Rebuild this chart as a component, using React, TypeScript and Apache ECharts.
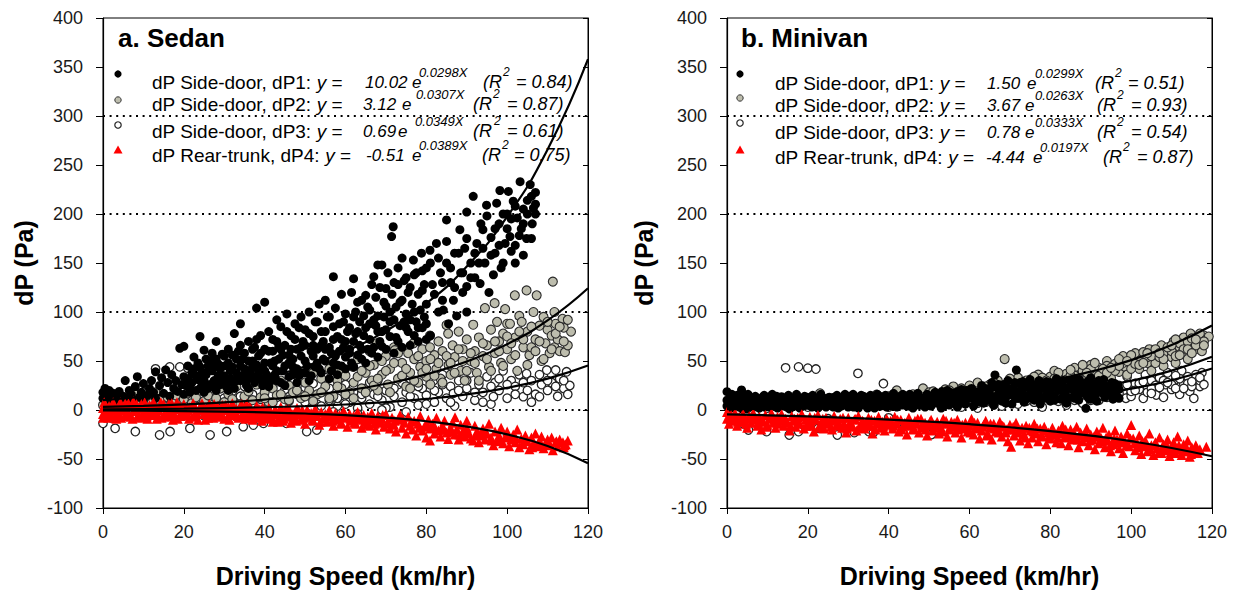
import React, { useEffect, useRef } from "react";
import * as echarts from "echarts";

// ---------- DATA ----------
const legendLabels = ["dP Side-door, dP1: ", "dP Side-door, dP2: ", "dP Side-door, dP3: ", "dP Rear-trunk, dP4: "];
const panelTitles = ["a. Sedan", "b. Minivan"];
const xTitle = "Driving Speed (km/hr)";
const yTitle = "dP (Pa)";

const sedanCoef = ["10.02", "3.12", "0.69", "-0.51"];
const sedanExp = ["0.0298X", "0.0307X", "0.0349X", "0.0389X"];
const sedanR2 = ["0.84", "0.87", "0.61", "0.75"];
const minivanCoef = ["1.50", "3.67", "0.78", "-4.44"];
const minivanExp = ["0.0299X", "0.0263X", "0.0333X", "0.0197X"];
const minivanR2 = ["0.51", "0.93", "0.54", "0.87"];

const refLines = [0, 100, 200, 300];

// fit curves read along x = 0..120 step 10
const fitX = [0, 10, 20, 30, 40, 50, 60, 70, 80, 90, 100, 110, 120];
const sedanFit1 = [10.02, 13.5, 18.19, 24.5, 33.0, 44.46, 59.89, 80.69, 108.7, 146.4, 197.3, 265.8, 358.0];
const sedanFit2 = [3.12, 4.24, 5.77, 7.84, 10.65, 14.48, 19.69, 26.76, 36.38, 49.44, 67.21, 91.36, 124.2];
const sedanFit3 = [0.69, 0.98, 1.39, 1.97, 2.79, 3.95, 5.6, 7.94, 11.26, 15.96, 22.62, 32.07, 45.46];
const sedanFit4 = [-0.51, -0.75, -1.11, -1.64, -2.42, -3.57, -5.26, -7.76, -11.46, -16.91, -24.94, -36.81, -54.3];
const minivanFit1 = [1.5, 2.02, 2.73, 3.68, 4.96, 6.69, 9.02, 12.16, 16.4, 22.12, 29.83, 40.22, 54.25];
const minivanFit2 = [3.67, 4.77, 6.21, 8.08, 10.51, 13.67, 17.78, 23.13, 30.09, 39.14, 50.92, 66.24, 86.16];
const minivanFit3 = [0.78, 1.09, 1.52, 2.12, 2.96, 4.12, 5.75, 8.02, 11.2, 15.62, 21.79, 30.4, 42.42];
const minivanFit4 = [-4.44, -5.41, -6.58, -8.02, -9.76, -11.89, -14.48, -17.63, -21.47, -26.14, -31.84, -38.77, -47.21];

const sedanDP1 = [
  [0,12],[0,18],[0.5,22],[1,9],[1,15],[1.5,20],[2,11],[2.5,17],[3,8],[3,13],[4,19],[4,10],[5,14],[5.5,30],[6,12],[6.5,20],[7,16],[7.5,9],[8,24],[8.5,34],[9,13],[9.5,18],[10,27],[10,11],
  [11,15],[11.5,22],[12,30],[12.5,18],[13,39],[13,12],[14,25],[14.5,33],[15,17],[15.5,41],[16,28],[16.5,14],[17,36],[17.5,22],[18,30],[18.5,19],[19,63],[19.5,26],[20,65],[20,34],[20,16],
  [21,45],[21.5,24],[22,38],[22.5,54],[23,20],[23.5,31],[24,75],[24,44],[24.5,27],[25,61],[25.5,36],[26,22],[26.5,50],[27,40],[27.5,30],[28,70],[28.5,47],[29,26],[29.5,57],[30,35],[30,45],
  [31,62],[31.5,40],[32,28],[32.5,78],[33,52],[33.5,35],[34,88],[34,45],[35,58],[35.5,30],[36,70],[36.5,40],[37,50],[37.5,64],[38,104],[38,34],[38.5,55],[39,76],[39.5,42],[40,110],[40,62],[40,28],
  [41,80],[41.5,48],[42,60],[42.5,36],[43,92],[43,70],[43.5,52],[44,85],[44.5,40],[45,66],[45.5,98],[46,56],[46.5,76],[47,44],[47.5,88],[48,62],[48.5,35],[49,95],[49.5,70],[50,50],[50,82],
  [51,100],[51.5,60],[52,75],[52.5,44],[53,90],[53.5,108],[54,66],[54.5,52],[55,112],[55,80],[56,95],[56.5,58],[57,136],[57,72],[57.5,104],[58,46],[58.5,88],[59,118],[59.5,64],[60,98],[60,54],
  [61,84],[61.5,120],[62,134],[62,70],[62.5,100],[63,56],[63.5,90],[64,112],[64.5,76],[65,117],[65.5,62],[66,102],[66.5,128],[67,136],[67.5,86],[68,148],[68,96],[68.5,70],[69,148],[69.5,110],[70,82],[70,124],
  [71,100],[71.4,177],[71.8,187],[72,130],[72.5,74],[73,145],[73.5,110],[74,155],[74.5,90],[75,135],[75.5,120],[76,66],[76.8,153],[77,100],[77.5,140],[78,84],[78.8,160],[79,122],[79.5,95],[80,145],[80,108],
  [80.9,163],[81,76],[81.5,128],[82.5,170],[83,100],[83.5,140],[84,112],[84.2,102],[85,194],[85,150],[85.5,88],[86,130],[86.7,112],[87,160],[87.5,96],[88.3,184],[88.5,140],[89,120],[89.5,165],[90,202],[90,126],[90,100],
  [91,150],[91.6,218],[92,135],[92.5,170],[93.3,129],[93.5,190],[94,184],[94.5,150],[94.9,209],[95.5,120],[96,176],[96.6,138],[97,160],[97.4,211],[98,190],[98.2,224],[98.5,145],[99,150],[99.5,170],[100,200],[100.3,223],[100.7,177],
  [101,162],[101.5,213],[102,168],[102.5,196],[103.2,233],[103.5,185],[104,205],[104.8,175],[105,214],[105.7,230],[106,218],[106.2,190],[106.5,206],[107,222],[107,200],[104,158],[102,150],
  [20.5,25],[21,32],[21.5,18],[22,28],[22.5,42],[23,35],[23.5,48],[24,22],[24.5,38],[25,30],[25.5,52],[26,40],[26.5,26],[27,58],[27.5,44],[28,20],[28.5,35],[29,42],[29.5,30],[30,55],[30.5,24],[31,48],[31.5,32],[32,44],[32.5,22],[33,38],[33.5,60],[34,30],[34.5,52],[35,42],[35.5,25],[36,50],[36.5,35],[37,62],[37.5,28],[38,46],[38.5,38],[39,58],[39.5,25],[40,48],
  [40.5,36],[41,60],[41.5,30],[42,72],[42.5,50],[43,40],[43.5,65],[44,28],[44.5,56],[45,45],[45.5,80],[46,34],[46.5,62],[47,52],[47.5,72],[48,42],[48.5,84],[49,55],[49.5,38],[50,66],[50.5,45],[51,78],[51.5,35],[52,55],[52.5,90],[53,62],[53.5,42],[54,80],[54.5,70],[55,50],[55.5,95],[56,64],[56.5,40],[57,85],[57.5,55],[58,75],[58.5,60],[59,45],[59.5,90],[60,70],
  [60.5,80],[61,62],[61.5,48],[62,95],[62.5,78],[63,110],[63.5,66],[64,52],[64.5,96],[65,84],[65.5,105],[66,72],[66.5,58],[67,92],[67.5,115],[68,80],[68.5,125],[69,65],[69.5,95],[70,106],[70.5,140],[71,75],[71.5,118],[72,92],[72.5,105],[73,128],[73.5,86],[74,112],[74.5,132],[75,98],[75.5,80],[76,125],[76.5,108],[77,138],[77.5,90],[78,118],[78.5,102],[79,142],[79.5,128],[80,88],
  [81,150],[82,118],[83,155],[84,130],[85,172],[86,145],[87,125],[88,160],[89,140],[90,175],[91,135],[92,160],[93,150],[94,165],[95,198],[96,158],[97,185],[98,168],[99,200],[100,185],[101,195],[102,208],[103,178],[104,190],[105,200],[106,175],[107,210],
  [25,18],[26,45],[27,24],[28,52],[29,36],[30,28],[31,20],[32,56],[33,30],[34,66],[35,36],[36,22],[37,44],[38,72],[39,32],[40,40],[41,24],[42,45],[43,30],[44,62],[45,25],[46,48],[47,36],[48,28],[49,64],[50,38],[51,30],[52,66],[53,48],[54,38],[55,62],[56,32],[57,48],[58,36],[59,72],[60,42],[61,58],[62,44],[63,80],[64,62],[65,48],[66,88],[67,64],[68,54],[69,80],[70,62],[71,90],[72,58],[73,70],[74,64],[75,84],[76,92],[77,76],[78,70],[79,84],[80,72]
];

const sedanDP2 = [
  [0,5],[1,10],[2,3],[3,8],[4,14],[5,6],[6,11],[7,4],[8,16],[9,9],[10,5],[11,12],[12,7],[13,18],[14,10],[15,4],[16,13],[17,8],[18,15],[19,6],[20,11],
  [21,17],[22,7],[23,13],[24,20],[25,9],[26,15],[27,5],[28,12],[29,22],[30,8],[31,16],[32,11],[33,24],[34,6],[35,14],[36,19],[37,10],[38,26],[39,13],[40,18],
  [41,8],[42,22],[43,15],[44,30],[45,11],[46,25],[47,18],[48,35],[49,12],[50,28],[51,20],[52,38],[53,16],[54,32],[55,24],[56,42],[57,14],[58,30],[58.6,41],[59,22],[60,35],
  [61,18],[61.9,44],[62,28],[63,52],[64,22],[65,38],[66,60],[66.5,30],[67,46],[67.7,68],[68,20],[69,36],[70,55],[70.5,26],[71,42],[72,64],[72.2,61],[73,32],[74,48],[75,24],[75.5,58],[76,38],[76.8,68],[77,52],[78,28],[78.5,44],[79,62],[80,34],[80,50],
  [80.9,76],[80.9,64],[81,26],[82,56],[82.5,42],[83,70],[83.5,32],[84,60],[85,86.7],[85.4,78],[85.5,46],[86,36],[86.5,66],[87,54],[88,80],[88.5,40],[89,62],[89.5,30],[90,72],[91,50],[91.6,87],[92,60],[92.5,38],[93,74],[94,55],[94.5,104],[95,66],[95.5,44],[96,82],[96.9,109],[97,58],[97.5,90],[98,70],[98.5,48],[99,78],[99.5,103],[100,62],[100,88],
  [100.7,88],[101,52],[101.9,117],[102,74],[102.5,40],[103,96],[103.6,90],[104,64],[104.8,122],[105,80],[105.5,56],[106,64],[106.5,100],[107,72],[107.3,117],[108,86],[108.5,50],[109,95],[109.5,68],[110,82],[110.5,58],[111,76],[111.3,131],[111.7,100],[111.7,64],[112,88],[112.5,72],[113,60],[113.7,93],[114.3,59],[115,66],[115.8,80],[114,84],
  [40,12],[42,8],[44,16],[46,10],[48,20],[50,14],[52,9],[54,18],[56,12],[58,24],[60,16],[62,12],[63,34],[64,40],[65,18],[66,45],[67,25],[68,32],[69,50],[70,40],[71,18],[72,48],[73,58],[74,35],[75,42],[76,22],[77,30],[78,55],[79,38],[80,42],[81,52],[82,35],[83,48],[84,28],[85,55],[86,48],[87,38],[88,62],[89,50],[90,40],[91,58],[92,48],[93,30],[94,68],[95,52],[96,40],[97,70],[98,60],[99,45],[100,75],[101,68],[102,56],[103,80],[104,72],[105,46],[106,85],[107,60],[108,70],[109,52],[110,90],[111,62],[112,78],[113,85],[114,70],[115,92]
];

const sedanDP3 = [
  [0,-13.6],[0.5,4],[1,10],[2,-8],[3,-18.7],[3.5,6],[4,14],[5,-5],[6,8],[7,2],[8,-22],[8.5,12],[9,5],[10,18],[11,-3],[12,9],[13,42],[13.5,3],[14,-25.5],[15,15],[16,6],[16.5,44],[16.6,-22],[17,11],[18,-2],[19,44],[20,8],[21,42.7],[21.5,-18.7],[22,14],[23,4],[24,20],[25,-6],[26,10],[26.5,-25.5],[27,17],[28,3],[29,22],[30,12],[30.6,-22],[31,6],[32,19],[33,-4],[34,14],[34.7,-17],[35,24],[36,8],[37,16],[37.2,-15.4],[38,28],[39,11],[39.7,-13.6],[40,20],[41,5],[42,25],[43,13],[44,-10],[45,21],[45.4,-13.6],[46,9],[47,30],[48,16],[49,-8],[50,23],[50.4,-22],[51,12],[52,27],[52.9,-20.4],[53,6],[54,18],[55,33],
  [56,10],[57,20],[58,4],[59,15],[60,26],[61,8],[62,18],[63,2],[64,12],[65,22],[66,6],[67,16],[68,30],[69,10],[70,20],[71,3],[72,14],[73,26],[74,8],[75,18],[76,32],[77,12],[78,5],[79,22],[80,15],[81,28],[81.8,30],[82,8],[83,18],[84,36],[85,12],[86,24],[86.7,17],[87,4],[88,30],[89,14],[90,22],[91,38],[92,10],[93,26],[94,18],[95,34],[96,6],[96.6,13.6],[97,28],[98,20],[99,40],[100,12],[101,30],[102,24],[103,36],[104,13.6],[104.8,37],[105,20],[106,30],[107,16],[108,13.6],[108.5,26],[109,34],[109.8,40.8],[110,20],[111,28],[112,40.8],[112.5,14],[113,32],[114,22],[114.7,39],[115.5,25],
  [50,8],[52,14],[54,4],[56,22],[58,12],[60,6],[62,24],[64,16],[66,28],[68,14],[70,2],[72,22],[74,28],[76,14],[78,24],[80,6],[82,20],[84,26],[86,8],[88,20],[90,30],[92,18],[94,8],[96,24],[98,32],[100,26],[102,16],[104,28],[106,8],[108,36],[110,30],[112,24],[114,30],[115,16],[57,-2],[63,-4],[69,0],[75,-2]
];

const sedanDP4 = [
  [0,2],[0,-4],[0.5,6],[1,-1],[1.5,4],[2,-6],[2.5,8],[3,0],[3.5,-3],[4,5],[4.5,-8],[5,2],[5.5,7],[6,-2],[6.5,-5],[7,4],[7.5,9],[8,-1],[8.5,-7],[9,3],[9.5,6],[10,-3],[10.5,1],[11,-9],[11.5,5],[12,-2],[12.5,8],[13,0],[13.5,-5],[14,3],[14.5,-8],[15,6],[15.5,-1],[16,2],[16.5,-6],[17,7],[17.5,-3],[18,1],[18.5,-9],[19,4],[19.5,-2],[20,6],[20.5,-5],[21,0],[21.5,3],[22,-7],[22.5,5],[23,-2],[23.5,-10],[24,2],[24.5,7],[25,-4],[25.5,1],[26,-8],[26.5,4],[27,-1],[27.5,6],[28,-6],[28.5,2],[29,-3],[29.5,5],[30,-9],[30.5,0],[31,3],[31.5,-5],[32,7],[32.5,-2],[33,1],[33.5,-8],[34,4],[34.5,-4],[35,-1],[35.5,6],[36,-6],[36.5,2],[37,-10],[37.5,0],[38,4],[38.5,-3],[39,-7],[39.5,3],[40,-2],
  [40.5,-9],[41,2],[41.5,-5],[42,-12],[42.5,0],[43,-4],[43.5,-8],[44,3],[44.5,-11],[45,-2],[45.5,-6],[46,1],[46.5,-13],[47,-4],[47.5,-8],[48,2],[48.5,-1],[49,-10],[49.5,-5],[50,-14],[50.5,0],[51,-7],[51.5,-3],[52,-11],[52.5,1],[53,-6],[53.5,-15],[54,-2],[54.5,-9],[55,-4],[55.5,-12],[56,0],[56.5,-7],[57,-16],[57.5,-3],[58,-10],[58.5,-5],[59,-13],[59.5,-1],[60,-8],[60.5,-17],[61,-4],[61.5,-11],[62,-6],[62.5,-14],[63,-2],[63.5,-9],[64,-18],[64.5,-5],[65,-12],[65.5,-7],[66,-16],[66.5,-3],[67,-10],[67.5,-20],[68,-6],[68.5,-13],[69,-9],[69.5,-17],[70,-4],
  [70.5,-12],[71,-19],[71.5,-8],[72,-15],[72.5,-22],[73,-10],[73.5,-5],[74,-18],[74.5,-13],[75,-24],[75.5,-7],[76,-16],[76.5,-20],[77,-11],[77.5,-26],[78,-14],[78.5,-6],[79,-21],[79.5,-17],[80,-28],[80.5,-10],[80.9,-31],[81,-19],[81.5,-14],[82,-24],[82.5,-8],[83,-21],[83.5,-27],[84,-16],[84.5,-11],[85,-23],[85.4,-29.6],[86,-18],[86.5,-13],[87,-25],[87.1,-7.5],[87.5,-20],[88,-30],[88.5,-15],[89,-22],[89.5,-27],[90,-11],[90,-18],
  [90.5,-24],[91,-29],[91.6,-31],[92,-16],[92.5,-22],[93,-33],[93.5,-26],[94,-19],[94.5,-30],[95,-24],[95.5,-14],[96,-28],[96.6,-36],[97,-22],[97.5,-32],[98,-26],[98.5,-18],[99,-34],[99.5,-28],[100,-22],[100.5,-37],[101,-30],[101.5,-25],[102,-33],[102.5,-20],[103,-38],[103.5,-29],[104,-35],[104.5,-26],[105,-32],[105.5,-40],[106,-28],[106.5,-34],[107,-24],[107.5,-37],[108,-31],[108.5,-27],[109,-39],[109.5,-34],[110,-30],[110.5,-36],[111,-28],[111.3,-41],[112,-33],[112.5,-37],[113,-30],[113.8,-32.8],[114,-38],[114.5,-35],[115,-31],
  [0,-8],[0.8,1],[1.8,-3],[2.8,3],[3.8,-5],[4.8,0],[5.8,4],[6.8,-7],[7.8,1],[8.8,-4],[9.8,2],[10.8,-6],[11.8,3],[12.8,-4],[13.8,0],[14.8,4],[15.8,-5],[16.8,1],[17.8,-7],[18.8,3],[19.8,-1],[20.8,-4],[21.8,2],[22.8,-6],[23.8,0],[24.8,3],[25.8,-3],[26.8,-6],[27.8,1],[28.8,-4],[29.8,2],[30.8,-7],[31.8,0],[32.8,-4],[33.8,2],[34.8,-6],[35.8,1],[36.8,-3],[37.8,-8],[38.8,1],[39.8,-5],
  [40.8,-3],[41.8,-8],[42.8,-1],[43.8,-6],[44.8,-9],[45.8,-3],[46.8,-7],[47.8,-11],[48.8,-4],[49.8,-8],[50.8,-3],[51.8,-10],[52.8,-5],[53.8,-12],[54.8,-7],[55.8,-3],[56.8,-11],[57.8,-7],[58.8,-14],[59.8,-4],[61.2,-9],[62.2,-13],[63.2,-6],[64.2,-10],[65.2,-15],[66.2,-9],[67.2,-14],[68.2,-10],[69.2,-5],[70.2,-14],
  [72.2,-11],[74.2,-9],[76.2,-12],[78.2,-18],[80.2,-15],[82.2,-18],[84.2,-20],[86.2,-22],[88.2,-25],[90.2,-21],[92.2,-26],[94.2,-24],[96.2,-31],[98.2,-30],[100.2,-27],[102.2,-29],[104.2,-31],[106.2,-38],[108.2,-35],[110.2,-33],[112.2,-32],[114.2,-36],
  [0.3,8],[1.3,-8],[2.3,5],[3.3,-9],[4.3,8],[5.3,-6],[6.3,7],[7.3,-9],[8.3,6],[9.3,-8],[10.3,8],[11.3,-5],[12.3,6],[13.3,-9],[14.3,8],[15.3,-7],[16.3,6],[17.3,-10],[18.3,8],[19.3,-6],[20.3,3],[21.3,-9],[22.3,7],[23.3,-4],[24.3,5],[25.3,-10],[26.3,6],[27.3,-8],[28.3,4],[29.3,-7],[30.3,5],[31.3,-10],[32.3,3],[33.3,-6],[34.3,6],[35.3,-9],[36.3,3],[37.3,-5],[38.3,2],[39.3,-11],[41.3,-1],[43.3,-12],[45.3,1],[47.3,-10],[49.3,0]
];

const minivanDP1 = [
  [0,4],[0,10],[0,18.7],[0.5,7],[1,2],[1,13],[1.5,5],[2,9],[2.5,15],[3,3],[3.6,20.4],[4,8],[4.5,12],[5,1],[5.5,6],[6,10],[6.5,3],[7,14],[7.5,7],[8,2],[8.5,11],[9,5],[9.5,8],[10,13],[10.5,3],[11,9],[11.5,6],[12,11],[12.5,2],[13,7],[13.5,13.6],[14,4],[14.5,10],[15,6],[15.5,1],[16,8],[16.5,12],[17,4],[17.5,9],[18,2],[18.5,7],[19,11],[19.5,5],[20,8],[20.5,12],[21,3],[21.5,6],[22,10],[22.5,2],[23,8],[23.5,5],[24,12],[24.5,3],[25,7],[25.5,10],[26,4],[26.5,13],[27,6],[27.5,2],[28,9],[28.5,5],[29,11],[29.2,16],[29.5,7],[30,3],[30.5,14],[31,8],[31.5,5],[32,10],[32.5,2],[33,12],[33.5,6],[34,9],[34.5,4],[35,11],[35.5,15],[36,6],[36.5,2],[37,9],[37.5,12],[38,4],[38.5,7],[39,13],[39.5,3],[40,10],[40.5,6],[41,14],[41.5,8],[42,3],[42.5,11],[43,6],[43.5,16],[44,9],[44.5,4],[45,12],[45.5,7],[46,2],[46.5,10],[47,14],[47.5,5],[48,8],[48.5,12],[49,3],[49.5,16],[50,9],
  [50.5,4],[51,13],[51.5,18],[52,7],[52.5,11],[53,2],[53.5,15],[54,9],[54.5,20],[55,5],[55.5,12],[56,17],[56.5,8],[57,3],[57.5,14],[58,21],[58.5,10],[59,6],[59.5,16],[60,12],[60.5,22],[61,4],[61.5,9],[62,18],[62.5,13],[63,25],[63.5,7],[64,15],[64.5,20],[65,10],[65.5,28],[66,5],[66.3,35.7],[66.5,14],[67,22],[67.5,18],[68,9],[68.5,26],[69,13],[69.5,30],[70,16],[70.5,6],[71,21],[71.6,40.8],[72,12],[72.5,28],[73,18],[73.5,8],[74,24],[74.5,14],[75,31],[75.5,20],[76,10],[76.5,26],[77,16],[77.5,6],[78,22],[78.5,12],[79,29],[79.5,18],[80,9],[80.5,24],[81,14],[81.5,32],[82,20],[82.5,11],[83,26],[83.5,16],[84,7],[84.5,22],[85,30],[85.5,13],[86,19],[86.5,25],[87,10],[87.5,28],[88,17],[88.8,1.7],[89,23],[89.5,12],[90,20],[90.5,27],[91,15],[91.5,9],[92,22],[92.5,18],[93,26],[93.5,13],[94,20],[94.5,16],[95,24],[95.5,11],[96,19],[96.5,14],[97,21],
  [0.3,6],[0.8,12],[1.3,8],[1.8,4],[2.3,11],[2.8,6],[3.3,9],[3.8,1],[4.3,14],[4.8,5],[5.3,10],[5.8,7],[6.3,12],[6.8,4],[7.3,9],[7.8,11],[8.3,6],[8.8,13],[9.3,3],[9.8,10],[10.3,7],[10.8,12],[11.3,4],[11.8,8],[12.3,14],[12.8,5],[13.3,9],[13.8,11],[14.3,7],[14.8,3],[15.3,12],[15.8,9],[16.3,5],[16.8,10],[17.3,13],[17.8,6],[18.3,11],[18.8,4],[19.3,9],[19.8,13],[20.3,5],[20.8,10],[21.3,7],[21.8,12],[22.3,4],[22.8,9],[23.3,13],[23.8,7],[24.3,10],[24.8,5],[25.3,13],[25.8,8],[26.3,3],[26.8,10],[27.3,12],[27.8,7],[28.3,4],[28.8,13],[29.8,9],[30.3,6],[30.8,11],[31.3,3],[31.8,13],[32.3,8],[32.8,5],[33.3,10],[33.8,14],[34.3,7],[34.8,2],[35.3,9],[35.8,12],[36.3,5],[36.8,10],[37.3,4],[37.8,14],[38.3,9],[38.8,6],[39.3,11],[39.8,7],[40.3,13],[40.8,4],[41.3,10],[41.8,12],[42.3,7],[42.8,14],[43.3,5],[43.8,10],[44.3,13],[44.8,7],[45.3,4],[45.8,11],[46.3,14],[46.8,6],[47.3,9],[47.8,12],[48.3,5],[48.8,10],[49.3,14],[49.8,6],
  [51,8],[52,16],[53,11],[54,5],[55,15],[56,10],[57,19],[58,7],[59,12],[60,17],[61,14],[62,8],[63,12],[64,22],[65,16],[66,9],[67,13],[68,19],[69,7],[70,22],[71,14],[72,18],[73,24],[74,11],[75,17],[76,21],[77,12],[78,26],[79,15],[80,20],[81,10],[82,25],[83,19],[84,14],[85,22],[86,12],[87,18],[88,24],[89,15],[90,11],[91,22],[92,28],[93,17],[94,24],[95,15],[96,27],[97,12],[86,32],[90,33],[92,30],[80,28],[75,26],
  [1.2,16],[3.2,14],[5.2,16],[7.2,12],[9.2,15],[11.2,16],[13.2,11],[15.2,15],[17.2,16],[19.2,14],[21.2,15],[23.2,16],[25.2,11],[27.2,15],[29.2,12],[31.2,16],[33.2,15],[35.2,12],[37.2,16],[39.2,15],[41.2,17],[43.2,12],[45.2,16],[47.2,17],[49.2,11],[51.2,16],[53.2,19],[55.2,18],[57.2,12],[59.2,20],[61.2,19],[63.2,17],[65.2,22],[67.2,26],[69.2,21],[71.2,28],[73.2,29],[75.2,22],[77.2,30],[79.2,24],[81.2,27],[83.2,30],[85.2,26],[87.2,31],[89.2,29],[91.2,25],[93.2,31],[95.2,28],[96.8,25]
];

const minivanDP2 = [
  [12,6],[15,9],[18,4],[20,11],[23,17],[25,7],[28,10],[30,13],[32,5],[35,12],[37,15.6],[39,9],[40,14],[42,20],[44,11],[46,16],[48,12],[48.5,22],[50,18],[51,19],[52,13],[54,21],[55,15],[56,24],[57,17],[58,22],[59,14],[60,25],
  [61,18],[62,28],[63,21],[64,14],[65,26],[66,20],[67,30],[68,23],[68.7,52],[69,17],[70,28],[71,22],[72,33],[73,26],[74,19],[75,31],[76,24],[77,36],[78,28],[79,21],[80,34],[80.5,27],[81,40],[82,31],[83,24],[84,37],[85,30],[86,43],[86.5,35],[87,27],[88,40],[89,33],[90,46],[90.5,38],[91,30],[92,43],[93,36],[94,50],[94.5,41],[95,33],[96,47],[97,39],[98,55],[98.5,44],[99,36],[100,51],[100.5,46],[101,58],[102,42],[103,54],[104,48],[104.5,62],[105,40],[106,57],[107,50],[107.5,66],[108,45],[109,60],[110,54],[110.5,70],[111,48],[112,64],[112.5,58],[113,74],[114,52],[114.7,78],[115,68],[116,62],[117,72],[117.5,60],[118,76],[119.2,75],
  [55,20],[58,18],[60,20],[62,15],[64,24],[66,28],[68,16],[70,20],[72,26],[74,30],[76,20],[78,33],[80,25],[82,38],[84,31],[86,35],[88,30],[90,42],[92,35],[94,45],[96,40],[98,48],[100,42],[102,50],[104,54],[106,48],[108,58],[110,60],[111,55],[112,68],[113,62],[114,70],[115,73],[116,66],[117,78],[118,70],[101,47],[103,59],[105,55],[107,54],[109,64],[97,45],[93,42],[89,38],[85,35],[81,32],
  [70,32],[73,22],[76,34],[79,30],[82,27],[85,41],[88,46],[91,48],[94,38],[97,52],[100,56],[102,46],[104,58],[106,62],[108,52],[110,66],[112,56],[114,62],[116,72],[118,66],[115,58],[111,72],[107,58],[103,48],[99,50],[95,43]
];

const minivanDP3 = [
  [2,-8],[4,-14],[5.3,-20.4],[7,-5],[9.8,-22],[12,-10],[14.5,43],[15.4,-25.5],[17.7,44],[17.7,-22],[20,42.7],[22,41.8],[22.6,-18.7],[25,-9],[27.3,-25.5],[30,-12],[31.5,-23],[32.4,37.4],[35.1,-22],[36.2,-23],[38.7,27],[40,-8],[44,-15],[50.6,-25],
  [1,3],[6,5],[10,2],[15,6],[20,3],[25,8],[30,4],[35,7],[40,3],[45,9],[50,5],[55,8],[58,3],
  [60,10],[62,2],[64,8],[66,14],[68,4],[70,10],[72,6],[74,16],[76,8],[78,3],[80,14],[81,20],[82,9],[84,5],[85,17],[86,24],[87,12],[88,7],[89,20],[90,15],[91,28],[92,10],[93,22],[94,17],[95,30],[96,13],[97,25],[98,19],[98.7,12],[99,34],[100,14],[101,27],[102,21],[103,11.9],[103.5,36],[104,24],[105,30],[106,17],[106.2,15.3],[107,33],[108,13],[108.5,26],[109,38],[110,21],[111,31],[112,16],[112.5,40],[113,27],[114,34],[114.5,19],[115.5,11.9],[116,30],[117,24],[117.5,38],
  [62,7],[66,5],[70,13],[74,9],[78,12],[82,16],[84,13],[86,10],[88,16],[90,10],[92,19],[94,13],[96,20],[98,24],[100,19],[102,27],[104,18],[106,25],[108,30],[110,26],[112,32],[114,27],[116,36],[117,30],[105,22],[111,22],[115,24],
  [91,18],[93,14],[95,22],[97,17],[99,26],[101,20],[103,29],[105,17],[107,23],[109,28],[111,35],[113,22],[115,29],[117,33],[118,26]
];

const minivanDP4 = [
  [0,-2],[0,-9],[0.5,-14],[1,-5],[1.5,-11],[2,-3],[2.5,-16],[3,-7],[3.5,-12],[4,-4],[4.5,-9],[5,-18],[5.5,-6],[6,-13],[6.5,-3],[7,-10],[7.5,-16],[8,-7],[8.5,-20],[9,-12],[9.5,-5],[10,-15],[10.5,-9],[11,-3],[11.5,-13],[12,-18],[12.5,-7],[13,-11],[13.5,-4],[14,-16],[14.5,-9],[15,-13],[15.5,-21],[16,-6],[16.5,-11],[17,-17],[17.5,-8],[18,-14],[18.5,-4],[19,-19],[19.5,-10],[20,-13],[20.5,-7],[21,-16],[21.5,-22],[22,-10],[22.5,-5],[23,-15],[23.5,-12],[24,-19],[24.5,-8],[25,-14],[25.5,-11],[26,-20],[26.5,-6],[27,-16],[27.5,-12],[28,-9],[28.5,-18],[29,-14],[29.5,-23],[30,-8],[30.5,-12],[31,-17],[31.5,-10],[32,-21],[32.5,-6],[33,-15],[33.5,-11],[34,-19],[34.5,-13],[35,-8],[35.5,-16],[36,-24],[36.5,-11],[37,-14],[37.5,-7],[38,-18],[38.5,-12],[39,-21],[39.5,-9],[40,-15],
  [40.5,-11],[41,-19],[41.5,-7],[42,-14],[42.5,-22],[43,-10],[43.5,-17],[44,-13],[44.5,-25],[45,-8],[45.5,-16],[46,-20],[46.5,-11],[47,-14],[47.5,-23],[48,-9],[48.5,-18],[49,-13],[49.5,-26],[50,-16],[50.5,-10],[51,-21],[51.5,-15],[52,-12],[52.5,-24],[53,-18],[53.5,-9],[54,-14],[54.5,-27],[55,-20],[55.5,-12],[56,-17],[56.5,-23],[57,-10],[57.5,-15],[58,-28],[58.5,-19],[59,-13],[59.5,-22],[60,-16],[60.5,-9],[61,-25],[61.5,-18],[62,-13],[62.5,-29],[63,-21],[63.5,-15],[64,-11],[64.5,-24],[65,-18],[65.5,-30],[66,-14],[66.5,-22],[67,-19],[67.5,-12],[68,-27],[68.5,-17],[69,-23],[69.5,-32],[70,-15],[70.3,-37.4],[70.5,-20],[71,-26],[71.5,-13],[72,-22],[72.5,-31],[73,-18],[73.5,-25],[74,-16],[74.5,-34],[75,-21],[75.5,-28],[76,-14],[76.5,-24],[77,-32],[77.5,-19],[78,-27],[78.5,-17],[79,-35],[79.5,-23],[80,-29],
  [80.5,-18],[81,-25],[81.5,-33],[82,-21],[82.7,-34],[83,-16],[83.5,-28],[84,-24],[84.5,-36],[85,-20],[85.5,-30],[86,-26],[86.5,-17],[87,-38],[87.5,-23],[88,-32],[88.5,-28],[89,-19],[89.5,-36],[90,-25],[90.5,-30],[91,-40],[91.5,-22],[92,-34],[92.5,-28],[93,-18],[93.5,-38],[94,-31],[94.5,-25],[95,-42],[95.5,-35],[96,-21],[96.5,-30],[97,-39],[97.5,-27],[98,-44],[98.5,-33],[99,-24],[99.5,-37],[100,-15.3],[100.5,-29],[101,-41],[101.5,-34],[102,-26],[102.5,-45],[103,-37],[103.5,-31],[104,-42],[104.5,-24],[105,-36],[105.5,-46],[106,-33],[106.5,-39],[107,-28],[107.5,-44],[108,-35],[108.5,-41],[109,-30],[109.5,-47],[110,-38],[110.5,-33],[111,-44],[111.5,-27],[112,-40],[112.5,-46],[113,-35],[113.5,-42],[114,-31],[114.5,-47.6],[115,-38],[115.5,-44],[116,-36],[118.6,-37.4],
  [0.7,-6],[1.7,-9],[2.7,-12],[3.7,-6],[4.7,-14],[5.7,-9],[6.7,-7],[7.7,-13],[8.7,-10],[9.7,-17],[10.7,-6],[11.7,-10],[12.7,-14],[13.7,-8],[14.7,-12],[15.7,-16],[16.7,-9],[17.7,-13],[18.7,-7],[19.7,-16],[20.7,-11],[21.7,-8],[22.7,-18],[23.7,-9],[24.7,-13],[25.7,-17],[26.7,-10],[27.7,-14],[28.7,-8],[29.7,-19],[30.7,-14],[31.7,-9],[32.7,-18],[33.7,-12],[34.7,-16],[35.7,-10],[36.7,-20],[37.7,-13],[38.7,-16],[39.7,-11],
  [41.2,-16],[42.2,-10],[43.2,-20],[44.2,-15],[45.2,-12],[46.2,-18],[47.2,-9],[48.2,-15],[49.2,-20],[50.2,-12],[51.2,-18],[52.2,-16],[53.2,-22],[54.2,-11],[55.2,-17],[56.2,-13],[57.2,-20],[58.2,-15],[59.2,-18],[60.2,-23],[61.2,-13],[62.2,-19],[63.2,-17],[64.2,-26],[65.2,-14],[66.2,-19],[67.2,-23],[68.2,-16],[69.2,-20],
  [70.8,-17],[71.8,-23],[72.8,-20],[73.8,-28],[74.8,-18],[75.8,-22],[76.8,-19],[77.8,-25],[78.8,-21],[79.8,-26],[80.8,-22],[81.8,-28],[82.8,-24],[83.8,-20],[84.8,-27],[85.8,-23],[86.8,-30],[87.8,-26],[88.8,-24],[89.8,-31],[90.8,-27],[91.8,-25],[92.8,-32],[93.8,-28],[94.8,-36],[95.8,-29],[96.8,-33],[97.8,-31],[98.8,-36],[99.8,-29],[100.8,-34],[101.8,-38],[102.8,-32],[103.8,-36],[104.8,-40],[105.8,-35],[106.8,-43],[107.8,-38],[108.8,-36],[109.8,-43],[110.8,-40],[111.8,-36],[112.8,-42],[113.8,-39],[114.8,-45],[115.8,-41],[116.5,-44],[117,-40]
];

// ---------- LAYOUT (positions / styles) ----------
const FONT = "'Liberation Sans', Arial, Helvetica, sans-serif";
const GRIDS = [
  { left: 103, top: 18, width: 485, height: 490 },
  { left: 727, top: 18, width: 485, height: 490 },
];
const LEG = [
  {
    titleX: 118, symX: 118, textX: 152,
    rowY: [82, 104, 131, 155], symY: [74, 100, 125, 150],
    coefX: [365, 363, 363, 366], eX: [412, 402, 398, 412], expX: [419, 416, 415, 419],
    rX: [483, 473, 473, 482], supX: [503, 493, 494, 502], eqX: [516, 507, 507, 514],
  },
  {
    titleX: 741, symX: 740, textX: 775,
    rowY: [83, 105, 132, 157], symY: [74, 98, 123, 150],
    coefX: [987, 987, 987, 986], eX: [1027, 1025, 1025, 1033], expX: [1035, 1035, 1035, 1040],
    rX: [1095, 1097, 1097, 1103], supX: [1115, 1117, 1117, 1123], eqX: [1128, 1131, 1131, 1137],
  },
];

const GREY = "#bdbdad";

function txt(x: number, y: number, text: string, size: number, opts: any = {}) {
  return {
    type: "text",
    x,
    y,
    rotation: opts.rotation || 0,
    z: 100,
    style: {
      text,
      fill: opts.fill || "#000",
      fontSize: size,
      fontFamily: FONT,
      fontWeight: opts.weight || "normal",
      fontStyle: opts.italic ? "italic" : "normal",
      align: opts.align || "left",
      textAlign: opts.align || "left",
      verticalAlign: "middle",
      textVerticalAlign: "middle",
      rich: opts.rich,
    },
  };
}

function legendSymbol(i: number, x: number, y: number) {
  if (i === 0) return { type: "circle", z: 100, shape: { cx: x, cy: y, r: 3.6 }, style: { fill: "#000" } };
  if (i === 1) return { type: "circle", z: 100, shape: { cx: x, cy: y, r: 3.2 }, style: { fill: GREY, stroke: "#333", lineWidth: 1 } };
  if (i === 2) return { type: "circle", z: 100, shape: { cx: x, cy: y, r: 3.2 }, style: { fill: "#fff", stroke: "#222", lineWidth: 1.2 } };
  return { type: "polygon", z: 100, shape: { points: [[x, y - 4.5], [x - 4.5, y + 3.5], [x + 4.5, y + 3.5]] }, style: { fill: "#ff0000" } };
}

function buildGraphic() {
  const g: any[] = [];
  const coefs = [sedanCoef, minivanCoef];
  const exps = [sedanExp, minivanExp];
  const r2s = [sedanR2, minivanR2];
  for (let p = 0; p < 2; p++) {
    const L = LEG[p];
    const G = GRIDS[p];
    g.push(txt(L.titleX, 38, panelTitles[p], 26, { weight: "bold" }));
    g.push(txt(G.left + G.width / 2, 576, xTitle, 25, { weight: "bold", align: "center" }));
    g.push(txt(p === 0 ? 24 : 644, G.top + G.height / 2, yTitle, 25, { weight: "bold", align: "center", rotation: Math.PI / 2 }));
    for (let i = 0; i < 4; i++) {
      const y = L.rowY[i];
      g.push(legendSymbol(i, L.symX, L.symY[i]));
      g.push(
        txt(L.textX, y, `{n|${legendLabels[i]}}{i|y} {n|=}`, 19, {
          rich: {
            n: { fontSize: 19, fontFamily: FONT, fill: "#000" },
            i: { fontSize: 19, fontFamily: FONT, fontStyle: "italic", fill: "#000" },
          },
        })
      );
      g.push(txt(L.coefX[i], y, coefs[p][i], 17, { italic: true }));
      g.push(txt(L.eX[i], y, "e", 17, { italic: true }));
      g.push(txt(L.expX[i], y - 10, exps[p][i], 13, { italic: true }));
      g.push(txt(L.rX[i], y, "(R", 18, { italic: true }));
      g.push(txt(L.supX[i], y - 10, "2", 12, { italic: true }));
      g.push(txt(L.eqX[i], y, `= ${r2s[p][i]})`, 18, { italic: true }));
    }
  }
  return g;
}

function pairs(xs: number[], ys: number[]) {
  return xs.map((x, i) => [x, ys[i]]);
}

function panelSeries(idx: number, d1: number[][], d2: number[][], d3: number[][], d4: number[][], fits: number[][]) {
  const base = { xAxisIndex: idx, yAxisIndex: idx * 2 };
  const s: any[] = [
    {
      ...base,
      type: "scatter",
      name: "dP3",
      data: d3,
      symbol: "circle",
      symbolSize: 8.5,
      itemStyle: { color: "#fff", borderColor: "#222", borderWidth: 1.3, opacity: 1 },
      z: 2,
      markLine: {
        silent: true,
        symbol: "none",
        label: { show: false },
        lineStyle: { color: "#000", width: 2, type: [2, 4.6] },
        data: refLines.map((v) => ({ yAxis: v })),
        z: 1,
      },
    },
    {
      ...base,
      type: "scatter",
      name: "dP2",
      data: d2,
      symbol: "circle",
      symbolSize: 9,
      itemStyle: { color: GREY, borderColor: "#2a2a2a", borderWidth: 1.1, opacity: 1 },
      z: 3,
    },
    {
      ...base,
      type: "scatter",
      name: "dP1",
      data: d1,
      symbol: "circle",
      symbolSize: 9,
      itemStyle: { color: "#000", opacity: 1 },
      z: 4,
    },
    {
      ...base,
      type: "scatter",
      name: "dP4",
      data: d4,
      symbol: "triangle",
      symbolSize: 10,
      itemStyle: { color: "#ff0000", opacity: 1 },
      z: 5,
    },
  ];
  fits.forEach((f, k) => {
    s.push({
      ...base,
      type: "line",
      name: "fit" + (k + 1),
      data: pairs(fitX, f),
      smooth: true,
      showSymbol: false,
      symbol: "none",
      lineStyle: { color: "#000", width: 2.2 },
      z: 6,
    });
  });
  return s;
}

export default function App() {
  const ref = useRef<HTMLDivElement>(null);
  useEffect(() => {
    if (!ref.current) return;
    const chart = echarts.init(ref.current, undefined, { renderer: "svg" });
    const axisLabel = { fontSize: 18, fontFamily: FONT, color: "#1a1a1a" };
    const xAxes = GRIDS.map((_, i) => ({
      type: "value",
      gridIndex: i,
      min: 0,
      max: 120,
      interval: 20,
      axisLine: { show: true, onZero: false, lineStyle: { color: "#000", width: 1.2 } },
      axisTick: { show: true, inside: false, length: 6, lineStyle: { color: "#000" } },
      axisLabel: { ...axisLabel, margin: 15 },
      splitLine: { show: false },
    }));
    const yAxes: any[] = [];
    GRIDS.forEach((_, i) => {
      yAxes.push({
        type: "value",
        gridIndex: i,
        min: -100,
        max: 400,
        interval: 50,
        position: "left",
        axisLine: { show: true, onZero: false, lineStyle: { color: "#000", width: 1.2 } },
        axisTick: { show: true, inside: false, length: 7, lineStyle: { color: "#000" } },
        axisLabel: { ...axisLabel, margin: 20 },
        splitLine: { show: false },
      });
      yAxes.push({
        type: "value",
        gridIndex: i,
        min: -100,
        max: 400,
        interval: 50,
        position: "right",
        axisLine: { show: true, onZero: false, lineStyle: { color: "#000", width: 1 } },
        axisTick: { show: true, inside: true, length: 5, lineStyle: { color: "#000" } },
        axisLabel: { show: false },
        splitLine: { show: false },
      });
    });
    chart.setOption({
      animation: false,
      backgroundColor: "#fff",
      grid: GRIDS.map((g) => ({ ...g, show: true, borderColor: "#000", borderWidth: 1, backgroundColor: "transparent" })),
      xAxis: xAxes,
      yAxis: yAxes,
      series: [
        ...panelSeries(0, sedanDP1, sedanDP2, sedanDP3, sedanDP4, [sedanFit1, sedanFit2, sedanFit3, sedanFit4]),
        ...panelSeries(1, minivanDP1, minivanDP2, minivanDP3, minivanDP4, [minivanFit1, minivanFit2, minivanFit3, minivanFit4]),
      ],
      graphic: buildGraphic(),
    });
    return () => chart.dispose();
  }, []);
  return <div ref={ref} style={{ position: "fixed", left: 0, top: 0, width: 1235, height: 590, background: "#fff" }} />;
}
